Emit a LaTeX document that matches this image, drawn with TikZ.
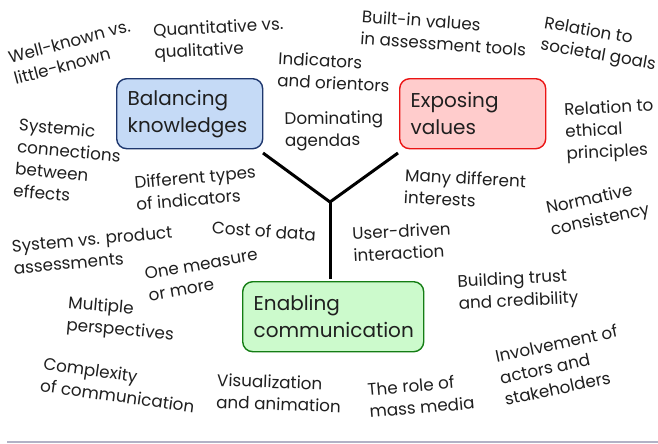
\documentclass[tikz,border=0pt]{standalone}
\usepackage{fontspec}
\setmainfont{Poppins}
\begin{document}
\begin{tikzpicture}[x=1pt,y=-1pt,
  lbl/.style={align=left,inner sep=0pt,font=\fontsize{16.8}{22}\selectfont,text=black!88},
  boxstyle/.style={rounded corners=10pt,line width=1.4pt,align=left,inner xsep=11pt,
    font=\fontsize{20}{27}\selectfont,text=black!88,anchor=north west,minimum height=70pt},
  arm/.style={line width=3pt,line cap=butt}]
\useasboundingbox (0,0) rectangle (658,444);
\fill[white] (0,0) rectangle (658,444);
\definecolor{bfill}{RGB}{197,218,246}
\definecolor{bdraw}{RGB}{30,55,110}
\definecolor{rfill}{RGB}{255,204,204}
\definecolor{rdraw}{RGB}{235,20,20}
\definecolor{gfill}{RGB}{204,250,204}
\definecolor{gdraw}{RGB}{20,125,20}
\definecolor{rule}{RGB}{178,178,198}

\node[boxstyle,fill=bfill,draw=bdraw,minimum width=146pt,text width=124pt] (bal) at (116,78) {Balancing\\knowledges};
\node[boxstyle,fill=rfill,draw=rdraw,minimum width=146pt,text width=124pt] (exp) at (399,78) {Exposing\\values};
\node[boxstyle,fill=gfill,draw=gdraw,minimum width=181pt,text width=159pt] (ena) at (242,281) {Enabling\\communication};

\coordinate (j) at (330,202);
\coordinate (la) at (263,153);
\coordinate (ra) at (398,153);
\coordinate (st) at (330,279);
\draw[arm] (la) -- (j) -- (ra);
\draw[arm] (j) -- (st);

\node[lbl,rotate=15] (n1) at (72,52) {Well-known vs.\\little-known};
\node[lbl,rotate=3] (n2) at (219,40) {Quantitative vs.\\qualitative};
\node[lbl,rotate=-3] (n3) at (334,72) {Indicators\\and orientors};
\node[lbl,rotate=1] (n4) at (334,131) {Dominating\\agendas};
\node[lbl,rotate=-5] (n5) at (68,162) {Systemic\\connections\\between\\effects};
\node[lbl,rotate=5] (n6) at (196,188) {Different types\\of indicators};
\node[lbl,rotate=-4] (n7) at (444,33) {Built-in values\\in assessment tools};
\node[lbl,rotate=-10] (n8) at (600,45) {Relation to\\societal goals};
\node[lbl,rotate=3] (n9) at (610,131) {Relation to\\ethical\\principles};
\node[lbl,rotate=-3] (n10) at (465,189) {Many different\\interests};
\node[lbl,rotate=12] (n11) at (598,210) {Normative\\consistency};
\node[lbl,rotate=5] (n12) at (93,250) {System vs. product\\assessments};
\node[lbl,rotate=-4] (n13) at (264,231) {Cost of data};
\node[lbl,rotate=10] (n14) at (203,275) {One measure\\or more};
\node[lbl,rotate=3] (n15) at (402,242) {User-driven\\interaction};
\node[lbl,rotate=-5] (n16) at (121,320) {Multiple\\perspectives};
\node[lbl,rotate=3] (n17) at (518,291) {Building trust\\and credibility};
\node[lbl,rotate=-8] (n18) at (119,385) {Complexity\\of communication};
\node[lbl,rotate=-2] (n19) at (279,393) {Visualization\\and animation};
\node[lbl,rotate=5] (n20) at (421,396) {The role of\\mass media};
\node[lbl,rotate=12] (n21) at (561,365) {Involvement of\\actors and\\stakeholders};

\coordinate (r1) at (7,442);
\coordinate (r2) at (658,442);
\draw[rule,line width=2pt] (r1) -- (r2);
\end{tikzpicture}
\end{document}
